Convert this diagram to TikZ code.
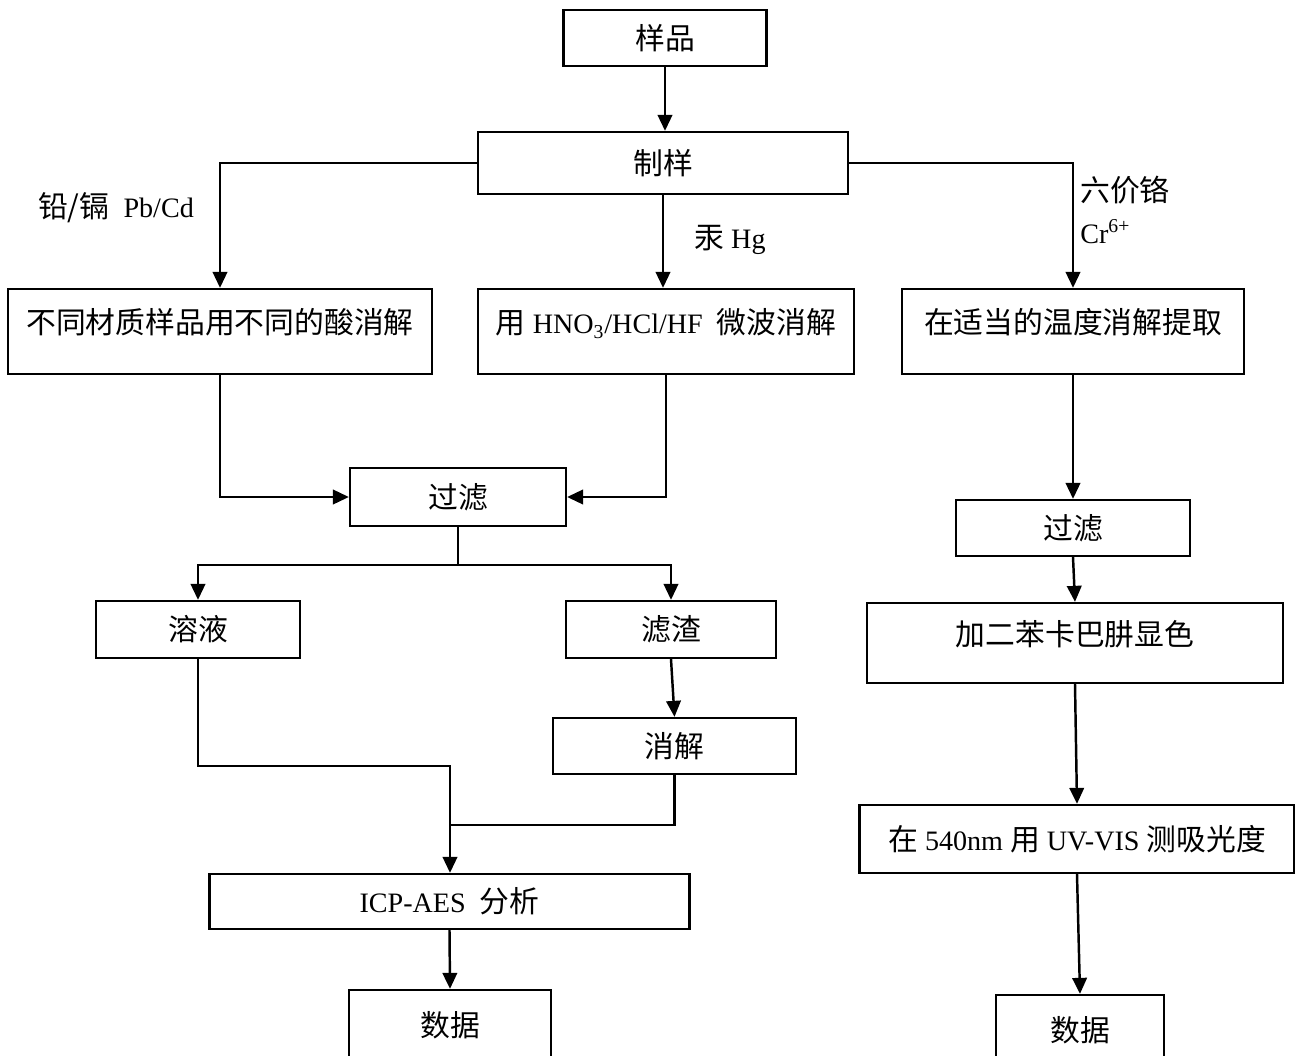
\documentclass[tikz,border=0pt]{standalone}
\usepackage{fontspec}
\setmainfont{Liberation Serif}
\newfontfamily\cjk{Noto Sans CJK SC}[Scale=1.06]
\newcommand{\zh}[1]{{\cjk #1}}
\usetikzlibrary{arrows.meta}

\begin{document}
\begin{tikzpicture}[
    x=0.02cm, y=-0.02cm,
    font=\fontsize{16pt}{19pt}\selectfont,
    box/.style={
        draw,
        line width=1.3pt,
        align=center,
        inner sep=0pt
    },
    tallbox/.style={
        box,
        text height=0.53cm,
        text depth=0.45cm
    },
    arrow/.style={
        -{Triangle[length=0.32cm,width=0.29cm]},
        line width=1.4pt
    },
    line/.style={
        line width=1.4pt,
        line cap=rect
    }
]

\useasboundingbox (0,0) rectangle (1295,1055);
\fill[white] (0,0) rectangle (1295,1055);

\node[box, minimum width=4.06cm, minimum height=1.12cm] (sample) at (665,38) {\zh{样品}};
\node[box, minimum width=7.4cm, minimum height=1.24cm] (prep) at (663,163) {\zh{制样}};

\node[tallbox, minimum width=8.48cm, minimum height=1.7cm] (pbbox) at (220,331.5) {\zh{不同材质样品用不同的酸消解}};
\node[tallbox, minimum width=7.52cm, minimum height=1.7cm] (hgbox) at (666,331.5) {\zh{用} HNO\textsubscript{3}/HCl/HF~~\zh{微波消解}};
\node[tallbox, minimum width=6.84cm, minimum height=1.7cm] (crbox) at (1073,331.5) {\zh{在适当的温度消解提取}};

\node (pblabel) at (116,208) {\zh{铅/镉}~~Pb/Cd};
\node (hglabel) at (730,240) {\zh{汞} Hg};
\node[anchor=west, inner sep=0pt] (crlabel) at (1080,190) {\zh{六价铬}};
\node[anchor=west, inner sep=0pt] (crion) at (1080,232) {Cr\textsuperscript{6+}};

\node[box, minimum width=4.32cm, minimum height=1.16cm] (filter1) at (458,497) {\zh{过滤}};
\coordinate (split) at (458,565);
\node[box, minimum width=4.08cm, minimum height=1.14cm] (solution) at (198,629.5) {\zh{溶液}};
\node[box, minimum width=4.2cm, minimum height=1.14cm] (residue) at (671,629.5) {\zh{滤渣}};
\node[box, minimum width=4.86cm, minimum height=1.12cm] (digest) at (674.5,746) {\zh{消解}};
\coordinate (join1) at (450,766);
\coordinate (join2) at (450,825);
\node[box, minimum width=9.6cm, minimum height=1.1cm] (icp) at (449.5,901.5) {ICP-AES~~\zh{分析}};
\node[box, minimum width=4.04cm, minimum height=1.4cm] (data1) at (450,1025) {\zh{数据}};

\node[box, minimum width=4.68cm, minimum height=1.12cm] (filter2) at (1073,528) {\zh{过滤}};
\node[tallbox, minimum width=8.32cm, minimum height=1.6cm] (color) at (1075,643) {\zh{加二苯卡巴肼显色}};
\node[box, minimum width=8.7cm, minimum height=1.36cm] (uvvis) at (1077,839) {\zh{在} 540nm \zh{用} UV-VIS \zh{测吸光度}};
\node[box, minimum width=3.36cm, minimum height=1.4cm] (data2) at (1080,1030) {\zh{数据}};

\draw[arrow] (sample.south) -- (sample.south |- prep.north);
\draw[arrow] (prep.west) -| (pbbox.north);
\draw[arrow] (prep.south) -- (prep.south |- hgbox.north);
\draw[arrow] (prep.east) -| (crbox.north);
\draw[arrow] (pbbox.south) |- (filter1.west);
\draw[arrow] (hgbox.south) |- (filter1.east);
\draw[arrow] (filter1.south) -- (split) -| (solution.north);
\draw[arrow] (split) -| (residue.north);
\draw[arrow] (residue.south) -- (digest.north);
\draw[arrow] (solution.south) |- (join1) -- (join1 |- icp.north);
\draw[line] (digest.south) |- (join2);
\draw[arrow] (icp.south) -- (data1.north);
\draw[arrow] (crbox.south) -- (filter2.north);
\draw[arrow] (filter2.south) -- (color.north);
\draw[arrow] (color.south) -- (uvvis.north);
\draw[arrow] (uvvis.south) -- (data2.north);

\end{tikzpicture}
\end{document}
